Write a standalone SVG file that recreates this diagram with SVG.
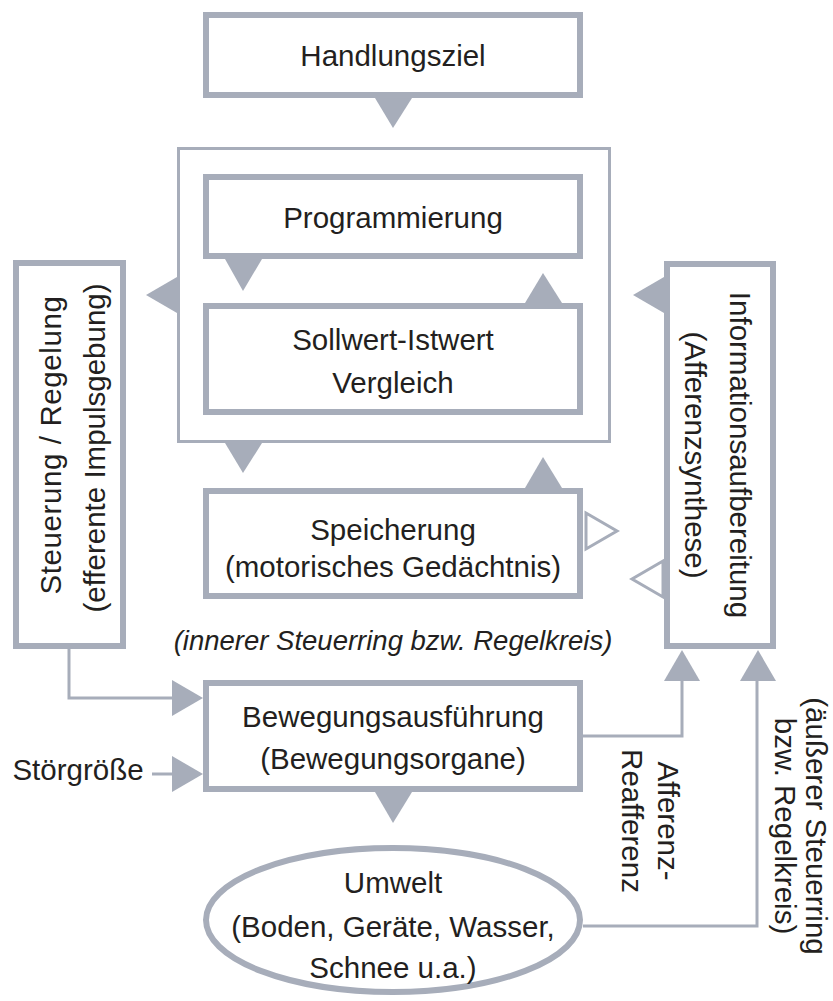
<svg xmlns="http://www.w3.org/2000/svg" width="833" height="1001" viewBox="0 0 833 1001">
<style>
.box{fill:#fff;stroke:#a7adba;stroke-width:6}
.frame{fill:none;stroke:#a7adba;stroke-width:3}
.line{fill:none;stroke:#a7adba;stroke-width:3}
.tri{fill:#a7adba;stroke:none}
.open{fill:#fff;stroke:#a7adba;stroke-width:3;stroke-linejoin:miter}
text{font-family:"Liberation Sans",Arial,sans-serif;font-size:29.5px;fill:#231f20;text-anchor:middle}
.it{font-style:italic;font-size:27.5px}
</style>
<rect width="833" height="1001" fill="#fff"/>
<g id="frame">
<rect class="frame" x="178.5" y="148.5" width="431" height="293"/>
</g>
<g id="handlungsziel">
<rect class="box" x="206" y="15" width="374" height="80"/>
<text x="393" y="66">Handlungsziel</text>
</g>
<g id="programmierung">
<rect class="box" x="206" y="177" width="374" height="79"/>
<text x="393" y="228">Programmierung</text>
</g>
<g id="vergleich">
<rect class="box" x="206" y="306" width="374" height="106"/>
<text x="393" y="350">Sollwert-Istwert</text>
<text x="393" y="393">Vergleich</text>
</g>
<g id="speicherung">
<rect class="box" x="206" y="491" width="374" height="105"/>
<text x="393" y="540">Speicherung</text>
<text x="393" y="577">(motorisches Gedächtnis)</text>
</g>
<g id="steuerung">
<rect class="box" x="16" y="263" width="107" height="383"/>
<text transform="translate(61,445) rotate(-90)" letter-spacing="0.6">Steuerung / Regelung</text>
<text transform="translate(105,448) rotate(-90)">(efferente Impulsgebung)</text>
</g>
<g id="information">
<rect class="box" x="667" y="264" width="106" height="382"/>
<text transform="translate(730,455) rotate(90)">Informationsaufbereitung</text>
<text transform="translate(685,455) rotate(90)">(Afferenzsynthese)</text>
</g>
<g id="bewegung">
<rect class="box" x="206" y="683" width="374" height="106"/>
<text x="393" y="727">Bewegungsausführung</text>
<text x="393" y="769">(Bewegungsorgane)</text>
</g>
<g id="umwelt">
<ellipse class="box" cx="393" cy="920" rx="187" ry="72"/>
<text x="393" y="893">Umwelt</text>
<text x="393" y="937">(Boden, Geräte, Wasser,</text>
<text x="393" y="978">Schnee u.a.)</text>
</g>
<g id="labels">
<text class="it" x="393" y="650">(innerer Steuerring bzw. Regelkreis)</text>
<text x="78" y="780">Störgröße</text>
<text transform="translate(658,821) rotate(90)">Afferenz-</text>
<text transform="translate(622,821) rotate(90)">Reafferenz</text>
<text transform="translate(806,826) rotate(90)">(äußerer Steuerring</text>
<text transform="translate(775,826) rotate(90)">bzw. Regelkreis)</text>
</g>
<g id="connectors">
<polygon class="tri" points="375,98 412,98 393,128"/>
<polygon class="tri" points="225,259 262,259 243,291"/>
<polygon class="tri" points="525,303 562,303 543,273"/>
<polygon class="tri" points="177,277 177,313 146,295"/>
<polygon class="tri" points="664,277 664,313 633,295"/>
<polygon class="tri" points="225,443 262,443 243,473"/>
<polygon class="tri" points="525,488 562,488 543,457"/>
<polygon class="open" points="586,513 617,531 586,549"/>
<polygon class="open" points="663,561 632,579 663,597"/>
<polyline class="line" points="69,649 69,698 172,698"/>
<polygon class="tri" points="172,680 172,716 203,698"/>
<line class="line" x1="152" y1="774" x2="172" y2="774"/>
<polygon class="tri" points="172,756 172,792 203,774"/>
<polygon class="tri" points="375,792 412,792 393,823"/>
<polyline class="line" points="583,736 682,736 682,681"/>
<polygon class="tri" points="664,681 700,681 682,650"/>
<polyline class="line" points="583,926 757,926 757,681"/>
<polygon class="tri" points="740,681 776,681 758,650"/>
</g>
</svg>
